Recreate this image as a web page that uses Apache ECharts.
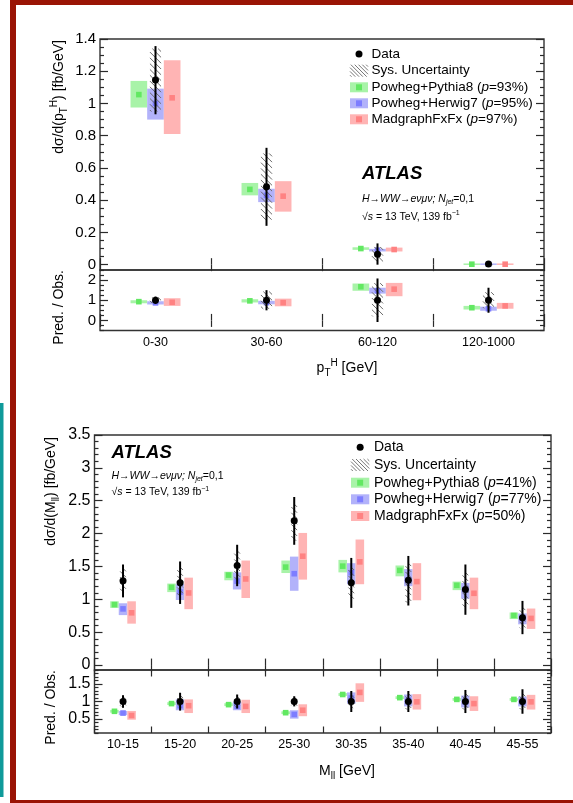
<!DOCTYPE html>
<html><head><meta charset="utf-8">
<script src="https://cdn.jsdelivr.net/npm/echarts@6/dist/echarts.min.js"></script>
<style>html,body{margin:0;padding:0;background:#fff}#c{width:573px;height:803px}</style>
</head><body><div id="c"></div>
<script>
// ---------------- DATA ----------------
// Upper figure: pT^H
const ptCats = ['0-30', '30-60', '60-120', '120-1000'];
const ptTicks = [0, 0.2, 0.4, 0.6, 0.8, 1, 1.2, 1.4];
const ptData   = [1.146, 0.484, 0.065, 0.004];
const ptErrLo  = [0.933, 0.241, 0.0, 0.0];
const ptErrHi  = [1.356, 0.725, 0.132, 0.010];
const ptSysLo  = [0.950, 0.279, 0.020, 0.0];
const ptSysHi  = [1.340, 0.690, 0.110, 0.008];
const ptPyC  = [1.055, 0.467, 0.100, 0.003];
const ptPyLo = [0.975, 0.430, 0.092, 0.002];
const ptPyHi = [1.140, 0.507, 0.108, 0.004];
const ptHwC  = [1.000, 0.430, 0.090, 0.003];
const ptHwLo = [0.900, 0.388, 0.082, 0.002];
const ptHwHi = [1.092, 0.471, 0.098, 0.004];
const ptMgC  = [1.035, 0.425, 0.094, 0.003];
const ptMgLo = [0.811, 0.329, 0.082, 0.002];
const ptMgHi = [1.268, 0.518, 0.106, 0.004];
// ratio pT
const ptRTicks = [0, 1, 2];
const ptRData  = [1, 1, 1, 1];
const ptRErrLo = [0.82, 0.50, -0.08, 0.38];
const ptRErrHi = [1.18, 1.50, 2.08, 1.62];
const ptRSysLo = [0.86, 0.57, 0.20, 0.60];
const ptRSysHi = [1.14, 1.43, 1.85, 1.40];
const ptRPyC  = [0.93, 0.97, 1.67, 0.63];
const ptRPyLo = [0.85, 0.89, 1.47, 0.54];
const ptRPyHi = [1.00, 1.05, 1.83, 0.72];
const ptRHwC  = [0.87, 0.88, 1.47, 0.58];
const ptRHwLo = [0.79, 0.80, 1.33, 0.48];
const ptRHwHi = [0.95, 0.97, 1.62, 0.68];
const ptRMgC  = [0.90, 0.88, 1.55, 0.72];
const ptRMgLo = [0.72, 0.70, 1.20, 0.58];
const ptRMgHi = [1.10, 1.08, 1.86, 0.87];

// Lower figure: M_ll
const mCats = ['10-15', '15-20', '20-25', '25-30', '30-35', '35-40', '40-45', '45-55'];
const mTicks = [0, 0.5, 1, 1.5, 2, 2.5, 3, 3.5];
const mData  = [1.284, 1.254, 1.515, 2.195, 1.254, 1.290, 1.148, 0.720];
const mErrLo = [1.03, 0.93, 1.20, 1.83, 0.87, 0.906, 0.765, 0.47];
const mErrHi = [1.53, 1.576, 1.83, 2.557, 1.63, 1.66, 1.53, 0.976];
const mSysLo = [1.11, 1.04, 1.30, 1.89, 1.01, 0.95, 0.885, 0.56];
const mSysHi = [1.47, 1.49, 1.74, 2.45, 1.49, 1.55, 1.41, 0.88];
const mPyC  = [0.92, 1.183, 1.369, 1.49, 1.505, 1.44, 1.213, 0.755];
const mPyLo = [0.87, 1.11, 1.29, 1.40, 1.41, 1.35, 1.14, 0.70];
const mPyHi = [0.97, 1.24, 1.42, 1.59, 1.60, 1.515, 1.27, 0.80];
const mHwC  = [0.855, 1.11, 1.278, 1.39, 1.405, 1.29, 1.152, 0.71];
const mHwLo = [0.76, 0.99, 1.15, 1.13, 1.23, 1.20, 1.01, 0.62];
const mHwHi = [0.94, 1.23, 1.41, 1.65, 1.55, 1.46, 1.25, 0.785];
const mMgC  = [0.795, 1.097, 1.31, 1.656, 1.57, 1.27, 1.092, 0.71];
const mMgLo = [0.63, 0.85, 1.02, 1.30, 1.23, 0.986, 0.85, 0.55];
const mMgHi = [0.97, 1.33, 1.59, 2.01, 1.91, 1.55, 1.33, 0.86];
// ratio M_ll
const mRTicks = [0.5, 1, 1.5];
const mRData  = [1, 1, 1, 1, 1, 1, 1, 1];
const mRErrLo = [0.82, 0.74, 0.80, 0.86, 0.70, 0.70, 0.67, 0.65];
const mRErrHi = [1.18, 1.25, 1.20, 1.15, 1.30, 1.30, 1.33, 1.35];
const mRSysLo = [0.86, 0.82, 0.855, 0.87, 0.81, 0.77, 0.77, 0.77];
const mRSysHi = [1.14, 1.18, 1.145, 1.13, 1.19, 1.23, 1.23, 1.23];
const mRPyC  = [0.72, 0.94, 0.91, 0.68, 1.20, 1.11, 1.06, 1.06];
const mRPyLo = [0.68, 0.90, 0.87, 0.64, 1.16, 1.07, 1.02, 1.02];
const mRPyHi = [0.76, 0.98, 0.95, 0.72, 1.24, 1.15, 1.10, 1.10];
const mRHwC  = [0.67, 0.88, 0.86, 0.63, 1.10, 1.04, 0.99, 0.99];
const mRHwLo = [0.61, 0.75, 0.75, 0.51, 0.94, 0.86, 0.83, 0.86];
const mRHwHi = [0.73, 1.06, 0.99, 0.75, 1.26, 1.20, 1.17, 1.14];
const mRMgC  = [0.60, 0.88, 0.86, 0.75, 1.26, 0.99, 0.94, 0.99];
const mRMgLo = [0.48, 0.67, 0.67, 0.58, 0.99, 0.77, 0.73, 0.77];
const mRMgHi = [0.73, 1.06, 1.05, 0.92, 1.52, 1.21, 1.15, 1.19];

const ptLegend = ['Powheg+Pythia8 (', '93%)', 'Powheg+Herwig7 (', '95%)', 'MadgraphFxFx (', '97%)'];
const mLegend  = ['Powheg+Pythia8 (', '41%)', 'Powheg+Herwig7 (', '77%)', 'MadgraphFxFx (', '50%)'];

// ---------------- STYLE ----------------
const FONT = '"Liberation Sans", Arial, Helvetica, sans-serif';
const GREEN_BOX = '#a8f3a8', GREEN_MK = '#62e862';
const BLUE_BOX = '#b2b2fa', BLUE_MK = '#7d7dff';
const RED_BOX = '#ffb4b4', RED_MK = '#ff8282';
const AX = '#2a2a2a';
const FRAME_RED = '#9a1405', TEAL = '#0f9a9a';

function minorList(min, max, step, majors) {
  const out = [];
  for (let k = Math.ceil(min / step - 1e-9); k * step <= max + 1e-9; k++) {
    const v = +(k * step).toFixed(6);
    if (!majors.some(m => Math.abs(m - v) < 1e-6)) out.push(v);
  }
  return out;
}

function hatch(x0, x1, y0, y1, step, color) {
  const out = [];
  for (let c = y0 - x1 + step / 2; c < y1 - x0; c += step) {
    const xa = Math.max(x0, y0 - c), xb = Math.min(x1, y1 - c);
    if (xb > xa) out.push({type: 'line', shape: {x1: xa, y1: xa + c, x2: xb, y2: xb + c},
      style: {stroke: color, lineWidth: 1}});
  }
  return out;
}

function modelSeries(g, c, lo, hi, offset, fill, mark) {
  return {
    type: 'custom', xAxisIndex: 2 * g, yAxisIndex: 4 * g, z: 2, silent: true,
    data: c.map((v, i) => [i, v, lo[i], hi[i]]),
    encode: {x: 0, y: 1},
    renderItem: function (params, api) {
      const i = api.value(0);
      const pc = api.coord([i, api.value(1)]);
      const pl = api.coord([i, api.value(2)]);
      const ph = api.coord([i, api.value(3)]);
      const bw = api.size([1, 0])[0];
      const w = bw * 0.15;
      const cx = pc[0] + offset * w;
      const h = Math.max(pl[1] - ph[1], 1.5);
      const top = h === 1.5 ? pc[1] - 0.75 : ph[1];
      return {type: 'group', children: [
        {type: 'rect', shape: {x: cx - w / 2, y: top, width: w, height: h}, style: {fill: fill}},
        {type: 'rect', shape: {x: cx - 2.8, y: pc[1] - 2.8, width: 5.6, height: 5.6}, style: {fill: mark}}
      ]};
    }
  };
}

function dataSeries(g, v, elo, ehi, slo, shi) {
  return {
    type: 'custom', xAxisIndex: 2 * g, yAxisIndex: 4 * g, z: 5, silent: true,
    data: v.map((x, i) => [i, x, elo[i], ehi[i], slo[i], shi[i]]),
    encode: {x: 0, y: 1},
    renderItem: function (params, api) {
      const i = api.value(0);
      const pc = api.coord([i, api.value(1)]);
      const el = api.coord([i, api.value(2)]);
      const eh = api.coord([i, api.value(3)]);
      const sl = api.coord([i, api.value(4)]);
      const sh = api.coord([i, api.value(5)]);
      const bw = api.size([1, 0])[0];
      const hw = bw * 0.05;
      const children = hatch(pc[0] - hw, pc[0] + hw, sh[1], sl[1], 5.8, '#6a6a6a');
      children.push({type: 'line', shape: {x1: pc[0], y1: eh[1], x2: pc[0], y2: el[1]},
        style: {stroke: '#000', lineWidth: 2}});
      children.push({type: 'circle', shape: {cx: pc[0], cy: pc[1], r: 3.5}, style: {fill: '#000'}});
      return {type: 'group', children: children};
    }
  };
}

function xAxes(g, cats, showLabels, labelSize, margin) {
  const tick = {show: true, inside: true, length: 6.5, interval: 0, lineStyle: {color: AX, width: 1.2}};
  return [
    {gridIndex: g, type: 'category', data: cats, position: 'bottom', boundaryGap: true,
     axisLine: {show: false}, axisTick: tick, splitLine: {show: false},
     axisLabel: {show: showLabels, interval: 0, fontSize: labelSize, fontFamily: FONT, color: '#000', margin: margin}},
    {gridIndex: g, type: 'category', data: cats, position: 'top', boundaryGap: true,
     axisLine: {show: false}, axisTick: tick, splitLine: {show: false}, axisLabel: {show: false}}
  ];
}

function yAxes(g, min, max, majors, minorStep, labelSize) {
  const minors = minorList(min, max, minorStep, majors);
  const common = {gridIndex: g, type: 'value', min: min, max: max, splitLine: {show: false}, axisLine: {show: false}};
  const ts = {color: AX, width: 1.2};
  return [
    Object.assign({}, common, {position: 'left',
      axisTick: {show: true, inside: true, length: 8, customValues: majors, lineStyle: ts},
      axisLabel: {show: true, customValues: majors, fontSize: labelSize, fontFamily: FONT, color: '#000', margin: 4}}),
    Object.assign({}, common, {position: 'left',
      axisTick: {show: true, inside: true, length: 4, customValues: minors, lineStyle: ts},
      axisLabel: {show: false}}),
    Object.assign({}, common, {position: 'right',
      axisTick: {show: true, inside: true, length: 8, customValues: majors, lineStyle: ts},
      axisLabel: {show: false}}),
    Object.assign({}, common, {position: 'right',
      axisTick: {show: true, inside: true, length: 4, customValues: minors, lineStyle: ts},
      axisLabel: {show: false}})
  ];
}

function rich(fs) {
  const base = {fontSize: fs, fontFamily: FONT, color: '#000'};
  return {
    n: Object.assign({}, base),
    i: Object.assign({}, base, {fontStyle: 'italic'}),
    b: Object.assign({}, base, {fontStyle: 'italic', fontWeight: 'bold'}),
    sub: Object.assign({}, base, {fontSize: Math.round(fs * 0.7), padding: [Math.round(fs * 0.7), 0, 0, 0]}),
    sup: Object.assign({}, base, {fontSize: Math.round(fs * 0.7), padding: [0, 0, Math.round(fs * 0.7), 0]}),
    isub: Object.assign({}, base, {fontStyle: 'italic', fontSize: Math.round(fs * 0.7), padding: [Math.round(fs * 0.7), 0, 0, 0]})
  };
}

function txt(x, y, text, fs, align, vAlign, rot) {
  return {type: 'text', x: x, y: y, rotation: rot || 0, z: 10, silent: true,
    style: {text: text, rich: rich(fs), fontSize: fs, fontFamily: FONT, fill: '#000',
      align: align, textAlign: align, verticalAlign: vAlign, textVerticalAlign: vAlign}};
}

function legendEls(sx0, sx1, tx, rows, labels, fs) {
  const els = [];
  const cx = (sx0 + sx1) / 2;
  els.push({type: 'circle', shape: {cx: cx, cy: rows[0], r: 3.5}, style: {fill: '#000'}, z: 10});
  els.push(txt(tx, rows[0], '{n|Data}', fs, 'left', 'middle'));
  hatch(sx0, sx1, rows[1] - 6, rows[1] + 6, 3.8, '#777').forEach(l => { l.z = 10; els.push(l); });
  els.push(txt(tx, rows[1], '{n|Sys. Uncertainty}', fs, 'left', 'middle'));
  const boxes = [[GREEN_BOX, GREEN_MK], [BLUE_BOX, BLUE_MK], [RED_BOX, RED_MK]];
  for (let k = 0; k < 3; k++) {
    const y = rows[2 + k];
    els.push({type: 'rect', shape: {x: sx0, y: y - 5, width: sx1 - sx0, height: 10}, style: {fill: boxes[k][0]}, z: 10});
    els.push({type: 'rect', shape: {x: cx - 3, y: y - 3, width: 6, height: 6}, style: {fill: boxes[k][1]}, z: 10});
    els.push(txt(tx, y, '{n|' + labels[2 * k] + '}{i|p}{n|=' + labels[2 * k + 1] + '}', fs, 'left', 'middle'));
  }
  return els;
}

function atlasEls(x, y0, y1, y2) {
  return [
    txt(x, y0, '{b|ATLAS}', 18.5, 'left', 'middle'),
    txt(x, y1, '{i|H\u2192WW\u2192e\u03bd\u03bc\u03bd; N}{isub|jet}{n|=0,1}', 10.5, 'left', 'middle'),
    txt(x, y2, '{n|\u221a}{i|s}{n| = 13 TeV, 139 fb}{sup|\u22121}', 10.5, 'left', 'middle')
  ];
}

// ---------------- OPTION ----------------
const grids = [
  {left: 100, top: 39, width: 444, height: 231},
  {left: 100, top: 270, width: 444, height: 60.5},
  {left: 94.5, top: 435, width: 456.5, height: 235},
  {left: 94.5, top: 670, width: 456.5, height: 63}
].map(g => Object.assign(g, {show: true, borderColor: '#333', borderWidth: 1.4, backgroundColor: 'transparent', containLabel: false, outerBoundsMode: 'none'}));

const xAxis = [].concat(
  xAxes(0, ptCats, false, 12, 6),
  xAxes(1, ptCats, true, 12.5, 6),
  xAxes(2, mCats, false, 12, 6),
  xAxes(3, mCats, true, 12.5, 5)
);
const yAxis = [].concat(
  yAxes(0, -0.033, 1.4, ptTicks, 0.05, 15),
  yAxes(1, -0.5, 2.5, ptRTicks, 0.25, 15),
  yAxes(2, -0.075, 3.5, mTicks, 0.1, 16),
  yAxes(3, 0.1, 1.9, mRTicks, 0.1, 16)
);

const series = [
  modelSeries(0, ptPyC, ptPyLo, ptPyHi, -1, GREEN_BOX, GREEN_MK),
  modelSeries(0, ptHwC, ptHwLo, ptHwHi, 0, BLUE_BOX, BLUE_MK),
  modelSeries(0, ptMgC, ptMgLo, ptMgHi, 1, RED_BOX, RED_MK),
  dataSeries(0, ptData, ptErrLo, ptErrHi, ptSysLo, ptSysHi),
  modelSeries(1, ptRPyC, ptRPyLo, ptRPyHi, -1, GREEN_BOX, GREEN_MK),
  modelSeries(1, ptRHwC, ptRHwLo, ptRHwHi, 0, BLUE_BOX, BLUE_MK),
  modelSeries(1, ptRMgC, ptRMgLo, ptRMgHi, 1, RED_BOX, RED_MK),
  dataSeries(1, ptRData, ptRErrLo, ptRErrHi, ptRSysLo, ptRSysHi),
  modelSeries(2, mPyC, mPyLo, mPyHi, -1, GREEN_BOX, GREEN_MK),
  modelSeries(2, mHwC, mHwLo, mHwHi, 0, BLUE_BOX, BLUE_MK),
  modelSeries(2, mMgC, mMgLo, mMgHi, 1, RED_BOX, RED_MK),
  dataSeries(2, mData, mErrLo, mErrHi, mSysLo, mSysHi),
  modelSeries(3, mRPyC, mRPyLo, mRPyHi, -1, GREEN_BOX, GREEN_MK),
  modelSeries(3, mRHwC, mRHwLo, mRHwHi, 0, BLUE_BOX, BLUE_MK),
  modelSeries(3, mRMgC, mRMgLo, mRMgHi, 1, RED_BOX, RED_MK),
  dataSeries(3, mRData, mRErrLo, mRErrHi, mRSysLo, mRSysHi)
];

let graphics = [
  {type: 'rect', shape: {x: 10, y: 0, width: 6, height: 803}, style: {fill: FRAME_RED}, z: 1},
  {type: 'rect', shape: {x: 10, y: 0, width: 563, height: 5}, style: {fill: FRAME_RED}, z: 1},
  {type: 'rect', shape: {x: 10, y: 800, width: 563, height: 3}, style: {fill: FRAME_RED}, z: 1},
  {type: 'rect', shape: {x: 0, y: 403, width: 3.5, height: 394}, style: {fill: TEAL}, z: 1},
  // axis titles
  txt(59, 40, '{n|d\u03c3/d(p}{sub|T}{sup|H}{n|) [fb/GeV]}', 14, 'right', 'middle', Math.PI / 2),
  txt(59, 270, '{n|Pred. / Obs.}', 14, 'right', 'middle', Math.PI / 2),
  txt(347, 368, '{n|p}{sub|T}{sup|H}{n| [GeV]}', 14, 'center', 'middle'),
  txt(51, 437, '{n|d\u03c3/d(M}{sub|ll}{n|) [fb/GeV]}', 14, 'right', 'middle', Math.PI / 2),
  txt(51, 670, '{n|Pred. / Obs.}', 14, 'right', 'middle', Math.PI / 2),
  txt(347, 771.5, '{n|M}{sub|ll}{n| [GeV]}', 14, 'center', 'middle')
];
graphics = graphics.concat(
  legendEls(350, 368, 371.5, [54, 70.7, 87.3, 103.3, 119.3], ptLegend, 13.5),
  atlasEls(362, 174, 199, 216.7),
  legendEls(351, 369.3, 374, [447.3, 465, 482.7, 499.3, 516], mLegend, 14),
  atlasEls(111.5, 452.7, 475.7, 492.3)
);

const chart = echarts.init(document.getElementById('c'), null, {renderer: 'canvas', width: 573, height: 803});
chart.setOption({
  animation: false,
  backgroundColor: '#fff',
  grid: grids,
  xAxis: xAxis,
  yAxis: yAxis,
  series: series,
  graphic: {elements: graphics}
});
</script>
</body></html>
